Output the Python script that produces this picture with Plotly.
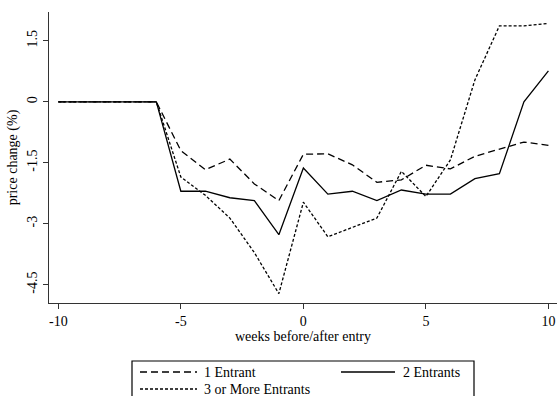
import plotly.graph_objects as go

weeks = list(range(-10, 11))
one_entrant = [0, 0, 0, 0, 0, -1.20, -1.67, -1.41, -2.02, -2.43, -1.29, -1.28, -1.55, -1.98, -1.92, -1.56, -1.65, -1.34, -1.16, -0.99, -1.07]
two_entrants = [0, 0, 0, 0, 0, -2.20, -2.20, -2.36, -2.43, -3.27, -1.63, -2.27, -2.20, -2.43, -2.17, -2.27, -2.27, -1.89, -1.77, 0.0, 0.76]
three_plus = [0, 0, 0, 0, 0, -1.85, -2.30, -2.86, -3.71, -4.72, -2.47, -3.32, -3.09, -2.86, -1.71, -2.33, -1.43, 0.54, 1.87, 1.87, 1.93]

series_names = ["1 Entrant", "2 Entrants", "3 or More Entrants"]
dashes = ["7px,4px", "solid", "3px,2px"]

y_ticks = [1.5, 0, -1.5, -3, -4.5]
y_ticktext = ["1.5", "0", "-1.5", "-3", "-4.5"]
x_ticks = [-10, -5, 0, 5, 10]
x_ticktext = ["-10", "-5", "0", "5", "10"]

W, H = 557, 396
ML, MR, MT, MB = 49, 0, 12, 93

FONT = "Liberation Serif"
fig = go.Figure()
for name, vals, d in zip(series_names, [one_entrant, two_entrants, three_plus], dashes):
    fig.add_trace(go.Scatter(x=weeks, y=vals, mode="lines", name=name,
                             line=dict(color="black", width=1.3, dash=d),
                             showlegend=False))

pw = W - ML - MR
ph = H - MT - MB


def px(x):
    return (x - ML) / pw


def py(y):
    return (H - MB - y) / ph


shapes = []
annotations = []
# legend box
shapes.append(dict(type="rect", xref="paper", yref="paper",
                   x0=px(132), x1=px(474), y0=py(405), y1=py(361),
                   line=dict(color="black", width=1.2), fillcolor="rgba(0,0,0,0)"))
legend_items = [
    (series_names[0], dashes[0], 140, 197, 202, 372),
    (series_names[1], dashes[1], 341, 395, 401, 372),
    (series_names[2], dashes[2], 140, 197, 202, 389),
]
for name, d, x0, x1, tx, yy in legend_items:
    shapes.append(dict(type="line", xref="paper", yref="paper",
                       x0=px(x0), x1=px(x1), y0=py(yy), y1=py(yy),
                       line=dict(color="black", width=1.3, dash=d)))
    annotations.append(dict(xref="paper", yref="paper", x=px(tx), y=py(yy),
                            text=name, showarrow=False, xanchor="left", yanchor="middle",
                            font=dict(family=FONT, size=14, color="black")))

fig.update_layout(
    width=W, height=H,
    margin=dict(l=ML, r=MR, t=MT, b=MB),
    paper_bgcolor="white", plot_bgcolor="white",
    font=dict(family=FONT, size=14, color="black"),
    showlegend=False,
    shapes=shapes,
    annotations=annotations,
    xaxis=dict(range=[-10.38, 10.35], tickvals=x_ticks, ticktext=x_ticktext,
               ticks="outside", ticklen=5,
               tickcolor="#333", showline=True, linecolor="#333", linewidth=1.3,
               showgrid=False, zeroline=False,
               title=dict(text="weeks before/after entry", standoff=2,
                          font=dict(family=FONT, size=14)),
               tickfont=dict(family=FONT, size=14)),
    yaxis=dict(range=[-4.95, 2.21], tickvals=y_ticks, ticktext=y_ticktext,
               ticks="outside", ticklen=5, tickcolor="#333", tickangle=-90,
               showline=True, linecolor="#333", linewidth=1.3,
               showgrid=False, zeroline=False,
               title=dict(text="price change (%)", standoff=4,
                          font=dict(family=FONT, size=14)),
               tickfont=dict(family=FONT, size=14)),
)

fig.write_html("out.html")
